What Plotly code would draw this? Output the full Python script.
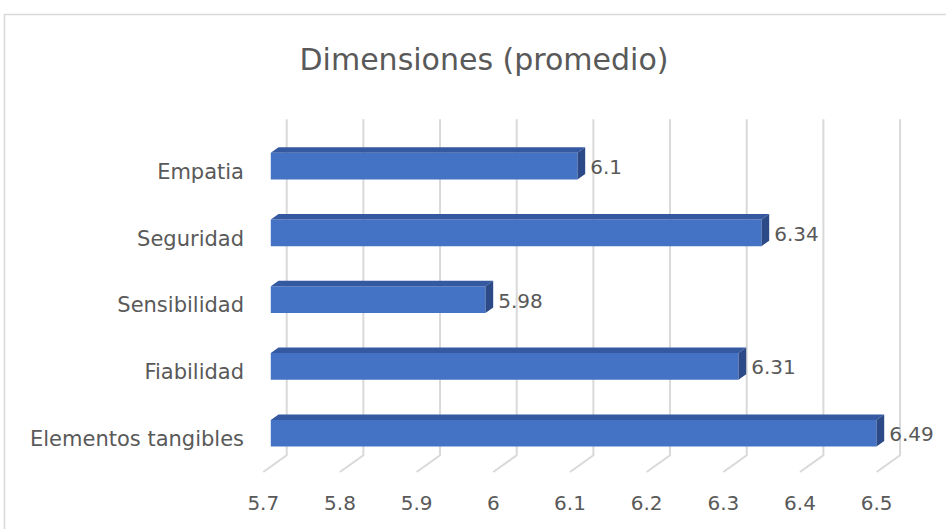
import plotly.graph_objects as go

# ---- data ----
categories = ["Elementos tangibles", "Fiabilidad", "Sensibilidad", "Seguridad", "Empatia"]
values = [6.49, 6.31, 5.98, 6.34, 6.1]
x_ticks = [5.7, 5.8, 5.9, 6.0, 6.1, 6.2, 6.3, 6.4, 6.5]
x_tick_labels = ["5.7", "5.8", "5.9", "6", "6.1", "6.2", "6.3", "6.4", "6.5"]
title_text = "Dimensiones (promedio)"
axis_min = 5.7

# ---- layout / pseudo-3D geometry ----
W, H = 946, 529
L, R, T, B = 245, 920, 110, 485          # plot area in pixels
SX = 766.7                               # px per value unit
X0PX = 263.3                             # px of axis_min on front floor
SY = 66.8                                # px per category
FLOOR_PX = 472.0                         # px of front floor (y=-0.5)
DX = 23.4 / SX                           # full-depth shift in value units
DY = 16.7 / SY                           # full-depth shift in category units
D1, D2 = 0.32, 0.65                      # bar front/back depth
HALF = 0.2                               # half bar thickness (category units)
LABEL_GAP = 5 / SX
LABEL_DROP = 3 / SY

xr = [axis_min - (X0PX - L) / SX, axis_min + (R - X0PX) / SX]
yr = [-0.5 - (B - FLOOR_PX) / SY, -0.5 + (FLOOR_PX - T) / SY]

TEXT = "#595959"
GRID = "#d9d9d9"
FRONT = "#4472C4"
TOP = "#3459A0"
SIDE = "#2B4A87"
FONT = "DejaVu Sans"

idx = list(range(len(categories)))
fig = go.Figure()

# gridlines: back wall verticals + floor slants
gx, gy = [], []
top_y = len(categories) - 0.5 + DY + 0.03
for v in x_ticks:
    gx += [v, v + DX, v + DX, None]
    gy += [-0.5, -0.5 + DY, top_y, None]
fig.add_trace(go.Scatter(x=gx, y=gy, mode="lines", line=dict(color=GRID, width=2),
                         hoverinfo="skip", showlegend=False))

# front faces
fx, fy = [], []
for i, v in zip(idx, values):
    x1, x2 = axis_min + D1 * DX, v + D1 * DX
    y1, y2 = i - HALF + D1 * DY, i + HALF + D1 * DY
    fx += [x1, x2, x2, x1, x1, None]
    fy += [y1, y1, y2, y2, y1, None]
fig.add_trace(go.Scatter(x=fx, y=fy, mode="lines", fill="toself", fillcolor=FRONT,
                         line=dict(width=0, color=FRONT), hoverinfo="skip", showlegend=False))

# top faces
tx, ty = [], []
for i, v in zip(idx, values):
    yt = i + HALF
    tx += [axis_min + D1 * DX, v + D1 * DX, v + D2 * DX, axis_min + D2 * DX, axis_min + D1 * DX, None]
    ty += [yt + D1 * DY, yt + D1 * DY, yt + D2 * DY, yt + D2 * DY, yt + D1 * DY, None]
fig.add_trace(go.Scatter(x=tx, y=ty, mode="lines", fill="toself", fillcolor=TOP,
                         line=dict(width=0, color=TOP), hoverinfo="skip", showlegend=False))

# side faces
sx, sy = [], []
for i, v in zip(idx, values):
    sx += [v + D1 * DX, v + D1 * DX, v + D2 * DX, v + D2 * DX, v + D1 * DX, None]
    sy += [i - HALF + D1 * DY, i + HALF + D1 * DY, i + HALF + D2 * DY, i - HALF + D2 * DY, i - HALF + D1 * DY, None]
fig.add_trace(go.Scatter(x=sx, y=sy, mode="lines", fill="toself", fillcolor=SIDE,
                         line=dict(width=0, color=SIDE), hoverinfo="skip", showlegend=False))

# data labels
fig.add_trace(go.Scatter(
    x=[v + D2 * DX + LABEL_GAP for v in values],
    y=[i + D1 * DY - LABEL_DROP for i in idx],
    mode="text", text=[f"{v:g}" for v in values], textposition="middle right",
    textfont=dict(family=FONT, size=20, color=TEXT), cliponaxis=False,
    hoverinfo="skip", showlegend=False))

pw, ph = R - L, B - T
def px_to_paper_x(px):
    return (px - L) / pw
def px_to_paper_y(py):
    return (B - py) / ph

fig.update_layout(
    width=W, height=H, autosize=False,
    margin=dict(l=L, r=W - R, t=T, b=H - B, pad=0),
    paper_bgcolor="white", plot_bgcolor="white",
    title=dict(text=title_text, x=484 / W, xref="container", xanchor="center",
               y=1 - 59 / H, yref="container", yanchor="middle",
               font=dict(family=FONT, size=30, color=TEXT)),
    xaxis=dict(range=xr, tickvals=x_ticks, ticktext=x_tick_labels, showgrid=False,
               zeroline=False, showline=False, ticks="", ticklabelstandoff=4,
               tickfont=dict(family=FONT, size=20, color=TEXT),
               fixedrange=True),
    yaxis=dict(range=yr, tickvals=idx, ticktext=categories, showgrid=False,
               zeroline=False, showline=False, ticks="", tickfont=dict(family=FONT, size=21, color=TEXT),
               fixedrange=True),
    shapes=[dict(type="rect", xref="paper", yref="paper",
                 x0=px_to_paper_x(4.5), x1=px_to_paper_x(960),
                 y0=px_to_paper_y(540), y1=px_to_paper_y(14.5),
                 line=dict(color=GRID, width=1.5), fillcolor="rgba(0,0,0,0)", layer="below")],
)

fig.write_html("out.html")
